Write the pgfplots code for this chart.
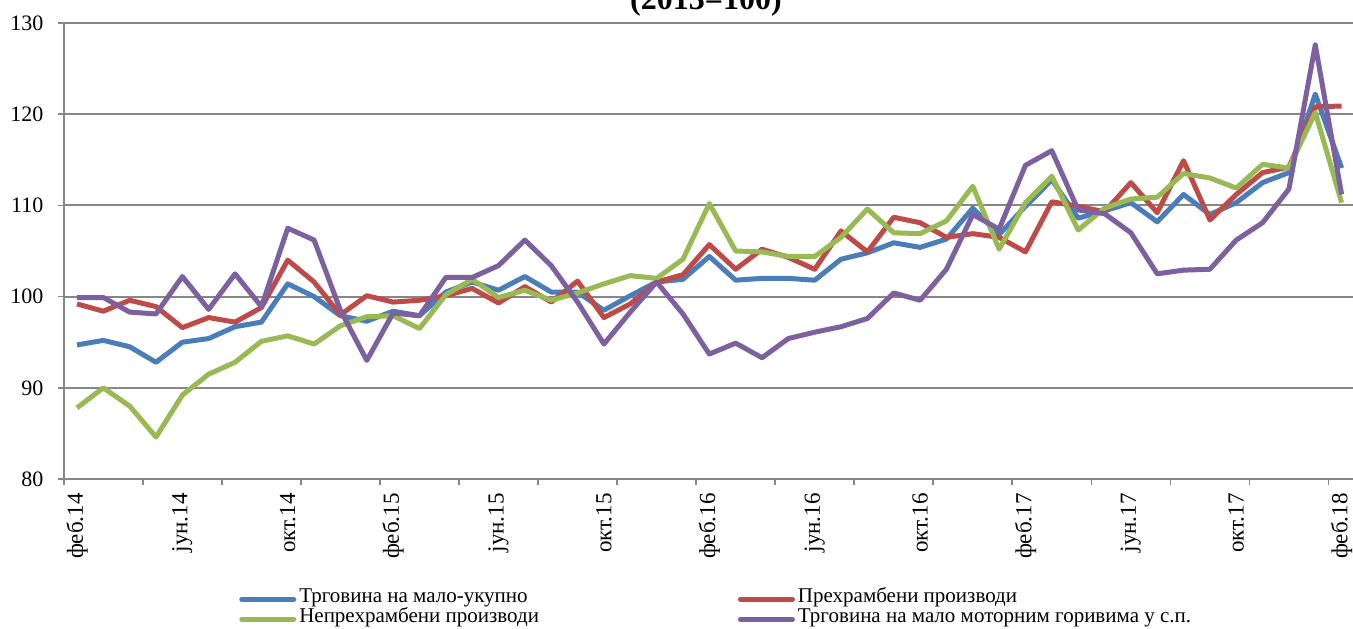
\documentclass[border=0pt]{standalone}
\usepackage{fontspec}
\setmainfont{Liberation Serif}
\usepackage{pgfplots}
\pgfplotsset{compat=1.18}
\definecolor{cBlue}{HTML}{4A7EBB}
\definecolor{cRed}{HTML}{BE4B48}
\definecolor{cGreen}{HTML}{98B954}
\definecolor{cPurple}{HTML}{7D60A0}
\definecolor{gridgray}{HTML}{878787}
\begin{document}
\begin{tikzpicture}
\begin{axis}[
  at={(31.9pt,74.5pt)}, anchor=south west,
  scale only axis, width=645.5pt, height=228pt,
  xmin=-0.5, xmax=48.5, ymin=80, ymax=130,
  ytick={80,90,...,130},
  xtick={-0.5,2.5,...,47.5},
  xticklabels={},
  extra x ticks={0,4,...,48},
  extra x tick labels={феб.14,јун.14,окт.14,феб.15,јун.15,окт.15,феб.16,јун.16,окт.16,феб.17,јун.17,окт.17,феб.18},
  extra x tick style={major tick length=0pt, grid=none},
  axis lines*=left,
  axis line style={draw=gridgray, line width=1pt},
  ymajorgrids, grid style={draw=gridgray, line width=1pt},
  tick align=outside,
  major tick length=3pt,
  tick style={draw=gridgray, line width=0.8pt},
  /pgf/number format/assume math mode=true,
  tick label style={font=\fontsize{11}{13}\selectfont},
  yticklabel style={inner sep=0pt, anchor=east},
  yticklabel shift=7pt,
  xticklabel style={rotate=90, anchor=east, inner sep=0pt, font=\fontsize{11.5}{13}\selectfont},
  xticklabel shift=7pt,
  every axis plot/.append style={line width=2.5pt, line join=round, mark=none},
  legend columns=2,
  legend cell align=left,
  legend style={at={(0.1356,-0.2368)}, anchor=north west, draw=none, fill=none, inner sep=0pt,
    font=\fontsize{10.5}{11}\selectfont, row sep=0pt,
    /tikz/every even column/.append style={column sep=98pt},
    nodes={inner xsep=1.5pt, inner ysep=0pt, text height=7.5pt, text depth=2.5pt}},
  legend image code/.code={\draw[#1, line width=2.5pt, line cap=round] (0pt,-1pt) -- (26pt,-1pt);},
]
\addplot[cBlue] coordinates {
(0,94.7)(1,95.2)(2,94.5)(3,92.8)(4,95.0)(5,95.4)(6,96.7)(7,97.2)(8,101.4)(9,100.0)
(10,97.9)(11,97.3)(12,98.4)(13,97.9)(14,100.5)(15,101.6)(16,100.7)(17,102.2)(18,100.5)(19,100.5)
(20,98.5)(21,100.1)(22,101.6)(23,101.9)(24,104.4)(25,101.8)(26,102.0)(27,102.0)(28,101.8)(29,104.1)
(30,104.8)(31,105.9)(32,105.4)(33,106.3)(34,109.7)(35,106.8)(36,109.9)(37,112.8)(38,108.6)(39,109.4)
(40,110.3)(41,108.2)(42,111.2)(43,109.0)(44,110.3)(45,112.5)(46,113.6)(47,122.2)(48,114.1)};
\addlegendentry{Трговина на мало-укупно}
\addplot[cRed] coordinates {
(0,99.2)(1,98.4)(2,99.6)(3,98.9)(4,96.6)(5,97.7)(6,97.2)(7,98.8)(8,104.0)(9,101.6)
(10,98.0)(11,100.1)(12,99.4)(13,99.6)(14,100.1)(15,100.9)(16,99.3)(17,101.1)(18,99.4)(19,101.7)
(20,97.7)(21,99.2)(22,101.6)(23,102.4)(24,105.7)(25,103.0)(26,105.2)(27,104.3)(28,103.0)(29,107.2)
(30,104.9)(31,108.7)(32,108.1)(33,106.5)(34,106.9)(35,106.5)(36,104.9)(37,110.4)(38,109.9)(39,109.3)
(40,112.5)(41,109.2)(42,114.9)(43,108.4)(44,111.2)(45,113.6)(46,114.2)(47,120.8)(48,120.9)};
\addlegendentry{Прехрамбени производи}
\addplot[cGreen] coordinates {
(0,87.8)(1,90.0)(2,88.0)(3,84.6)(4,89.2)(5,91.5)(6,92.8)(7,95.1)(8,95.7)(9,94.8)
(10,96.8)(11,97.8)(12,97.9)(13,96.5)(14,100.2)(15,101.9)(16,99.9)(17,100.7)(18,99.6)(19,100.4)
(20,101.4)(21,102.3)(22,102.0)(23,104.1)(24,110.2)(25,105.0)(26,104.9)(27,104.4)(28,104.4)(29,106.5)
(30,109.6)(31,107.0)(32,106.9)(33,108.3)(34,112.1)(35,105.2)(36,110.3)(37,113.2)(38,107.3)(39,109.7)
(40,110.7)(41,110.9)(42,113.5)(43,113.0)(44,111.9)(45,114.5)(46,114.1)(47,120.2)(48,110.3)};
\addlegendentry{Непрехрамбени производи}
\addplot[cPurple] coordinates {
(0,99.9)(1,99.9)(2,98.3)(3,98.1)(4,102.2)(5,98.6)(6,102.5)(7,98.9)(8,107.5)(9,106.2)
(10,98.5)(11,93.0)(12,98.2)(13,97.9)(14,102.1)(15,102.1)(16,103.4)(17,106.2)(18,103.4)(19,99.4)
(20,94.8)(21,98.3)(22,101.6)(23,98.1)(24,93.7)(25,94.9)(26,93.3)(27,95.4)(28,96.1)(29,96.7)
(30,97.6)(31,100.4)(32,99.6)(33,103.0)(34,109.0)(35,107.4)(36,114.4)(37,116.0)(38,109.5)(39,109.1)
(40,107.0)(41,102.5)(42,102.9)(43,103.0)(44,106.2)(45,108.1)(46,111.8)(47,127.6)(48,111.2)};
\addlegendentry{Трговина на мало моторним горивима у с.п.}
\end{axis}
\node[anchor=base, font=\bfseries\fontsize{16}{19}\selectfont] at (353pt,309pt) {(2013=100)};
\pgfresetboundingbox
\path[use as bounding box] (0pt,0pt) rectangle (676.5pt,314pt);
\end{tikzpicture}
\end{document}
